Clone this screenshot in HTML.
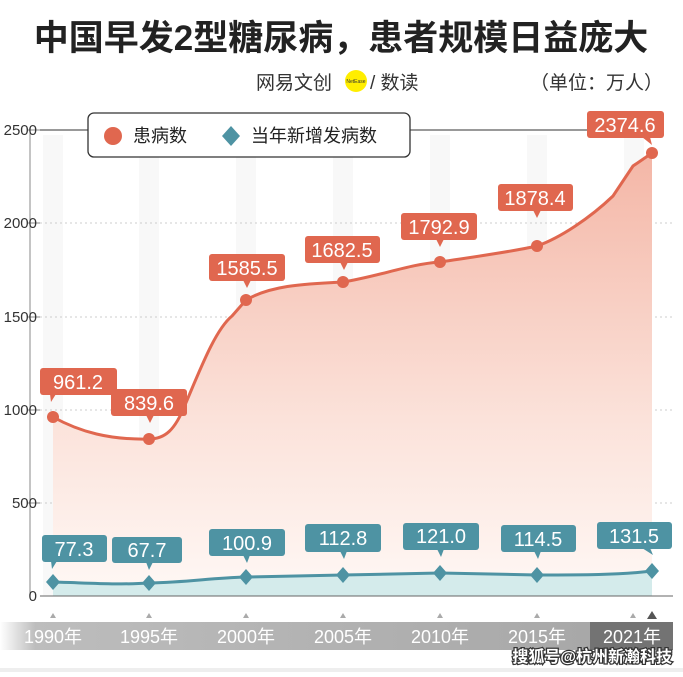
<!DOCTYPE html><html><head><meta charset="utf-8"><style>
body{margin:0;background:#fff;width:683px;height:672px;overflow:hidden;font-family:"Liberation Sans","Noto Sans CJK SC",sans-serif}
</style></head><body>
<svg width="683" height="672" viewBox="0 0 683 672" xmlns="http://www.w3.org/2000/svg" font-family="Liberation Sans, Noto Sans CJK SC, sans-serif">
<defs>
<linearGradient id="og" x1="0" y1="0" x2="0" y2="1"><stop offset="0" stop-color="#f4b6a6"/><stop offset="0.6" stop-color="#fbe2da"/><stop offset="1" stop-color="#fff8f5"/></linearGradient>
<linearGradient id="xb" x1="0" y1="0" x2="1" y2="0"><stop offset="0" stop-color="#fff"/><stop offset="0.06" stop-color="#bdbdbd"/><stop offset="1" stop-color="#a8a8a8"/></linearGradient>
</defs>
<text x="341" y="50" text-anchor="middle" font-size="35" font-weight="bold" fill="#222">中国早发2型糖尿病，患者规模日益庞大</text>
<text x="256" y="89" font-size="19" fill="#333">网易文创</text>
<circle cx="356" cy="81" r="11" fill="#ffee00"/><text x="356" y="83" text-anchor="middle" font-size="5" fill="#333">NetEase</text>
<text x="370" y="89" font-size="19" fill="#333">/ 数读</text>
<text x="530" y="89" font-size="19" fill="#333">（单位：万人）</text>
<g fill="#f8f8f8">
<rect x="43" y="135" width="20" height="461"/><rect x="139" y="135" width="20" height="461"/><rect x="236" y="135" width="20" height="461"/><rect x="333" y="135" width="20" height="461"/><rect x="430" y="135" width="20" height="461"/><rect x="527" y="135" width="20" height="461"/><rect x="624" y="135" width="20" height="461"/>
</g>
<g stroke="#ccc" stroke-dasharray="2,3"><line x1="40" y1="223" x2="673" y2="223"/><line x1="40" y1="317" x2="673" y2="317"/><line x1="40" y1="410" x2="673" y2="410"/><line x1="40" y1="503" x2="673" y2="503"/></g>
<line x1="30" y1="130" x2="30" y2="596" stroke="#888"/>
<g stroke="#888"><line x1="28" y1="130" x2="40" y2="130"/><line x1="28" y1="223" x2="40" y2="223"/><line x1="28" y1="317" x2="40" y2="317"/><line x1="28" y1="410" x2="40" y2="410"/><line x1="28" y1="503" x2="40" y2="503"/></g>
<line x1="40" y1="130" x2="600" y2="130" stroke="#333"/>
<g font-size="15" fill="#333" text-anchor="end"><text x="37" y="135">2500</text><text x="37" y="228">2000</text><text x="37" y="322">1500</text><text x="37" y="415">1000</text><text x="37" y="508">500</text><text x="37" y="601">0</text></g>
<path d="M53,417 C80,432 110,440 149,439 C165,439 175,430 185,405 C200,370 215,330 232,316 L246,300 C270,286 300,284 343,282 C380,276 410,264 440,262 C480,256 510,252 537,246 C560,238 590,218 613,196 L633,166 L652,153 L652,596 L53,596Z" fill="url(#og)"/>
<path d="M53,417 C80,432 110,440 149,439 C165,439 175,430 185,405 C200,370 215,330 232,316 L246,300 C270,286 300,284 343,282 C380,276 410,264 440,262 C480,256 510,252 537,246 C560,238 590,218 613,196 L633,166 L652,153" fill="none" stroke="#e0674f" stroke-width="3"/>
<g fill="#e0674f"><circle cx="53" cy="417" r="6"/><circle cx="149" cy="439" r="6"/><circle cx="246" cy="300" r="6"/><circle cx="343" cy="282" r="6"/><circle cx="440" cy="262" r="6"/><circle cx="537" cy="246" r="6"/><circle cx="652" cy="153" r="6"/></g>
<path d="M53,582 C90,583 120,585 149,583 C190,582 210,578 246,577 L343,575 L440,573 L537,575 C580,575 620,575 652,571 L652,596 L53,596Z" fill="#d4ebeb"/>
<path d="M53,582 C90,583 120,585 149,583 C190,582 210,578 246,577 L343,575 L440,573 L537,575 C580,575 620,575 652,571" fill="none" stroke="#4e93a3" stroke-width="3"/>
<g fill="#4e93a3"><path d="M53,574l7,8-7,8-7-8z"/><path d="M149,575l7,8-7,8-7-8z"/><path d="M246,569l7,8-7,8-7-8z"/><path d="M343,567l7,8-7,8-7-8z"/><path d="M440,565l7,8-7,8-7-8z"/><path d="M537,567l7,8-7,8-7-8z"/><path d="M652,563l7,8-7,8-7-8z"/></g>
<line x1="40" y1="596" x2="673" y2="596" stroke="#666"/>
<g fill="#e0674f">
<rect x="40" y="368" width="77" height="27" rx="3"/><path d="M50,394l6,0-5,8z"/>
<rect x="111" y="389" width="76" height="27" rx="3"/><path d="M146,415l8,0-4,8z"/>
<rect x="209" y="254" width="76" height="27" rx="3"/><path d="M243,280l8,0-4,8z"/>
<rect x="305" y="236" width="75" height="27" rx="3"/><path d="M340,262l8,0-4,8z"/>
<rect x="401" y="213" width="76" height="27" rx="3"/><path d="M436,239l8,0-4,8z"/>
<rect x="498" y="184" width="75" height="27" rx="3"/><path d="M533,210l8,0-4,8z"/>
<rect x="587" y="111" width="77" height="27" rx="3"/><path d="M642,137l8,0 2,8z"/>
</g>
<g fill="#fff" font-size="20" text-anchor="middle">
<text x="78" y="389">961.2</text><text x="149" y="410">839.6</text><text x="247" y="275">1585.5</text><text x="342" y="257">1682.5</text><text x="439" y="234">1792.9</text><text x="535" y="205">1878.4</text><text x="625" y="132">2374.6</text>
</g>
<g fill="#4e93a3">
<rect x="42" y="535" width="65" height="27" rx="3"/><path d="M51,561l6,0-5,8z"/>
<rect x="112" y="537" width="70" height="26" rx="3"/><path d="M146,562l7,0-4,8z"/>
<rect x="209" y="529" width="76" height="27" rx="3"/><path d="M243,555l7,0-3,8z"/>
<rect x="305" y="524" width="76" height="28" rx="3"/><path d="M340,551l7,0-3,8z"/>
<rect x="403" y="523" width="76" height="27" rx="3"/><path d="M437,549l7,0-3,8z"/>
<rect x="501" y="525" width="75" height="27" rx="3"/><path d="M534,551l7,0-3,8z"/>
<rect x="597" y="522" width="75" height="27" rx="3"/><path d="M642,548l8,0 3,7z"/>
</g>
<g fill="#fff" font-size="20" text-anchor="middle">
<text x="74" y="556">77.3</text><text x="147" y="557">67.7</text><text x="247" y="550">100.9</text><text x="343" y="545">112.8</text><text x="441" y="543">121.0</text><text x="538" y="546">114.5</text><text x="634" y="543">131.5</text>
</g>
<rect x="88" y="113" width="322" height="44" rx="6" fill="#fff" stroke="#333" stroke-width="1.3"/>
<circle cx="113" cy="136" r="9" fill="#e0674f"/>
<text x="133" y="142" font-size="18" fill="#222">患病数</text>
<path d="M231,126l9,10-9,10-9-10z" fill="#4e93a3"/>
<text x="251" y="142" font-size="18" fill="#222">当年新增发病数</text>
<g fill="#aaa"><path d="M53,613l3,5h-6z"/><path d="M149,613l3,5h-6z"/><path d="M246,613l3,5h-6z"/><path d="M343,613l3,5h-6z"/><path d="M440,613l3,5h-6z"/><path d="M537,613l3,5h-6z"/><path d="M633,613l3,5h-6z"/></g>
<path d="M652,611l5,8h-10z" fill="#555"/>
<rect x="0" y="622" width="590" height="28" fill="url(#xb)"/>
<rect x="590" y="622" width="83" height="28" fill="#737373"/>
<g fill="#fff" font-size="18" text-anchor="middle">
<text x="53" y="643">1990年</text><text x="149" y="643">1995年</text><text x="246" y="643">2000年</text><text x="343" y="643">2005年</text><text x="440" y="643">2010年</text><text x="537" y="643">2015年</text><text x="632" y="643">2021年</text>
</g>
<rect x="0" y="668" width="683" height="4" fill="#eee"/>
<text x="672" y="662" text-anchor="end" font-size="16" font-weight="bold" fill="#fff" stroke="#333" stroke-width="2.5" paint-order="stroke">搜狐号@杭州新瀚科技</text>
</svg>
</body></html>
